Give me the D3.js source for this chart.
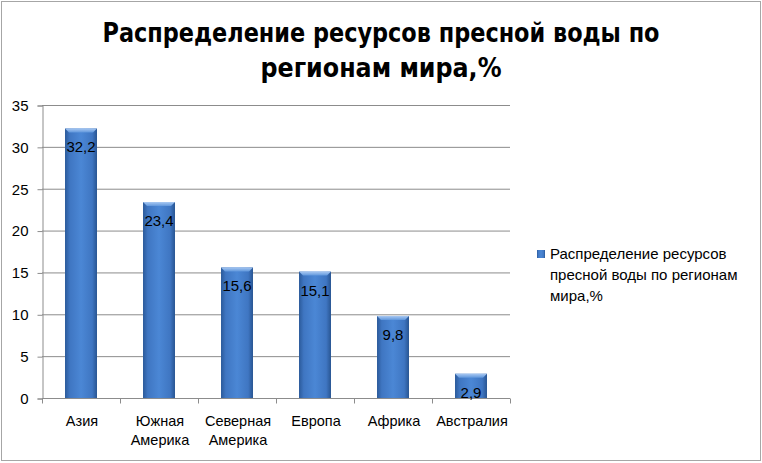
<!DOCTYPE html>
<html lang="ru">
<head>
<meta charset="UTF-8" />
<title>Распределение ресурсов пресной воды</title>
<script src="https://d3js.org/d3.v7.min.js"></script>
<style>
  body { margin: 0; background: #fff; }
  text { font-family: "Liberation Sans", "Noto Sans", sans-serif; fill: #000; }
</style>
</head>
<body>
<div id="chart"></div>
<script>
// data
const regions = ["Азия", "Южная Америка", "Северная Америка", "Европа", "Африка", "Австралия"];
const regionLines = [["Азия"], ["Южная", "Америка"], ["Северная", "Америка"], ["Европа"], ["Африка"], ["Австралия"]];
const shares = [32.2, 23.4, 15.6, 15.1, 9.8, 2.9];
const yTicks = [0, 5, 10, 15, 20, 25, 30, 35];
const titleLines = ["Распределение ресурсов пресной воды по", "регионам мира,%"];
const legendLines = ["Распределение ресурсов", "пресной воды по регионам", "мира,%"];

const width = 762, height = 463;
const plot = { left: 42, right: 510, top: 105, bottom: 398 };

const svg = d3.select("#chart").append("svg")
  .attr("width", width)
  .attr("height", height);

// outer frame
svg.append("rect")
  .attr("x", 1.5).attr("y", 1.5)
  .attr("width", width - 3).attr("height", height - 4)
  .attr("fill", "#fff").attr("stroke", "#a6a6a6");

// gradients for the bevelled bars
const defs = svg.append("defs");
const g1 = defs.append("linearGradient").attr("id", "barGrad")
  .attr("x1", "0").attr("x2", "1").attr("y1", "0").attr("y2", "0");
g1.append("stop").attr("offset", "0%").attr("stop-color", "#2b5a9a");
g1.append("stop").attr("offset", "15%").attr("stop-color", "#3f76c2");
g1.append("stop").attr("offset", "50%").attr("stop-color", "#4b87d5");
g1.append("stop").attr("offset", "85%").attr("stop-color", "#3f76c2");
g1.append("stop").attr("offset", "100%").attr("stop-color", "#285592");
const g2 = defs.append("linearGradient").attr("id", "capGrad")
  .attr("x1", "0").attr("x2", "0").attr("y1", "0").attr("y2", "1");
g2.append("stop").attr("offset", "0%").attr("stop-color", "#a8c8f2");
g2.append("stop").attr("offset", "100%").attr("stop-color", "#6097dc");

// scales
const x = d3.scaleBand().domain(regions).range([plot.left, plot.right]).paddingInner(0.59).paddingOuter(0.295);
const xOuter = d3.scaleBand().domain(regions).range([plot.left, plot.right]);
const y = d3.scaleLinear().domain([0, 35]).range([plot.bottom, plot.top]);

// gridlines
svg.append("g")
  .selectAll("line")
  .data(yTicks)
  .join("line")
  .attr("x1", plot.left).attr("x2", plot.right)
  .attr("y1", d => y(d) + 0.5).attr("y2", d => y(d) + 0.5)
  .attr("stroke", "#8c8c8c").attr("stroke-width", 1);

// y axis
const yAxis = svg.append("g")
  .attr("transform", `translate(${plot.left + 0.5},0.5)`)
  .call(d3.axisLeft(y).tickValues(yTicks).tickSize(5).tickPadding(9).tickFormat(d3.format("d")));
yAxis.select(".domain").attr("stroke", "#8c8c8c");
yAxis.selectAll(".tick line").attr("stroke", "#8c8c8c");
yAxis.selectAll(".tick text").attr("font-size", 15).attr("font-family", "Liberation Sans, sans-serif");

// x axis: ticks between categories
const xAxis = svg.append("g").attr("transform", `translate(0,${plot.bottom + 0.5})`);
xAxis.append("line")
  .attr("x1", plot.left).attr("x2", plot.right)
  .attr("stroke", "#8c8c8c");
xAxis.selectAll("line.sep")
  .data(regions.concat([null]))
  .join("line").attr("class", "sep")
  .attr("x1", (d, i) => (i < regions.length ? xOuter(d) : plot.right) + 0.5)
  .attr("x2", (d, i) => (i < regions.length ? xOuter(d) : plot.right) + 0.5)
  .attr("y1", 0).attr("y2", 5)
  .attr("stroke", "#8c8c8c");

// category labels
const catLabels = svg.append("g").selectAll("text")
  .data(regions)
  .join("text")
  .attr("x", d => xOuter(d) + xOuter.bandwidth() / 2 + 1)
  .attr("y", 426)
  .attr("text-anchor", "middle")
  .attr("font-size", 14.5);
catLabels.each(function (d, i) {
  d3.select(this).selectAll("tspan")
    .data(regionLines[i])
    .join("tspan")
    .attr("x", xOuter(d) + xOuter.bandwidth() / 2 + 1)
    .attr("dy", (t, k) => (k === 0 ? 0 : 19))
    .text(t => t);
});

// bars
const bars = svg.append("g").selectAll("g")
  .data(shares)
  .join("g");
bars.append("rect")
  .attr("x", (d, i) => x(regions[i]))
  .attr("y", d => y(d))
  .attr("width", x.bandwidth())
  .attr("height", d => plot.bottom - y(d))
  .attr("fill", "url(#barGrad)");
// bevel highlight on top of each bar
bars.append("path")
  .attr("d", (d, i) => {
    const x0 = x(regions[i]), w = x.bandwidth(), t = y(d);
    return `M${x0},${t}L${x0 + w},${t}L${x0 + w - 4},${t + 4}L${x0 + 4},${t + 4}Z`;
  })
  .attr("fill", "url(#capGrad)");

// value labels inside the bars
svg.append("g").selectAll("text")
  .data(shares)
  .join("text")
  .attr("x", (d, i) => x(regions[i]) + x.bandwidth() / 2)
  .attr("y", d => y(d) + 24)
  .attr("text-anchor", "middle")
  .attr("font-size", 15)
  .text(d => d3.format(".1f")(d).replace(".", ","));

// title
svg.append("g").selectAll("text")
  .data(titleLines)
  .join("text")
  .attr("x", 381)
  .attr("y", (d, i) => 42 + i * 35)
  .attr("text-anchor", "middle")
  .attr("font-size", 27)
  .attr("font-weight", "bold")
  .style("font-family", "'DejaVu Sans Condensed', 'Liberation Sans Narrow', sans-serif")
  .attr("textLength", (d, i) => (i === 0 ? 557 : 241))
  .attr("lengthAdjust", "spacingAndGlyphs")
  .text(d => d);

// legend
const legend = svg.append("g");
legend.append("rect")
  .attr("x", 537).attr("y", 250)
  .attr("width", 8).attr("height", 8)
  .attr("fill", "url(#barGrad)");
legend.selectAll("text")
  .data(legendLines)
  .join("text")
  .attr("x", 550)
  .attr("y", (d, i) => 259 + i * 21)
  .attr("font-size", 15)
  .text(d => d);
</script>
</body>
</html>
